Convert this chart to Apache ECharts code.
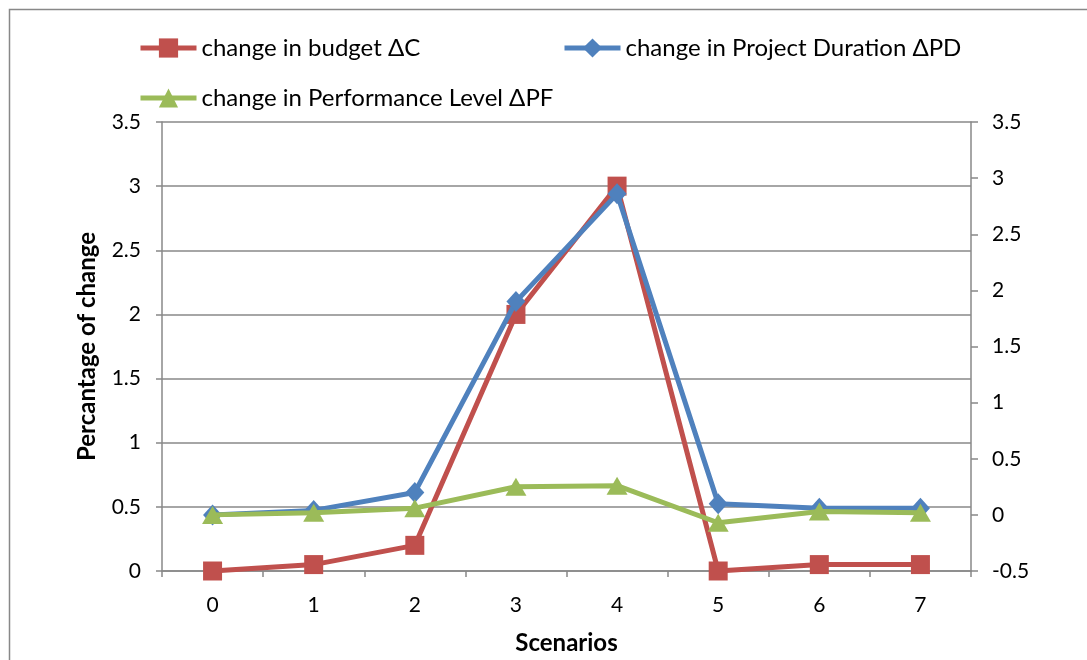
<!DOCTYPE html>
<html>
<head>
<meta charset="utf-8">
<script src="https://cdn.jsdelivr.net/npm/echarts@6/dist/echarts.min.js"></script>
<style>
html,body{margin:0;padding:0;background:#fff;}
#chart{width:1087px;height:660px;}
</style>
</head>
<body>
<div id="chart"></div>
<script>
const categories = ['0','1','2','3','4','5','6','7'];
const budget = [0, 0.05, 0.2, 2.0, 3.0, 0, 0.05, 0.05];
const duration = [0, 0.04, 0.2, 1.9, 2.86, 0.1, 0.06, 0.06];
const performance = [0, 0.02, 0.06, 0.25, 0.26, -0.07, 0.03, 0.02];
const names = ['change in budget \u0394C', 'change in Project Duration \u0394PD', 'change in Performance Level \u0394PF'];

const FONT = 'Lato';
const chart = echarts.init(document.getElementById('chart'), null, {renderer: 'canvas'});
const legendBase = {
  itemWidth: 56, itemHeight: 24, itemGap: 5,
  textStyle: {fontFamily: FONT, fontSize: 24, color: '#000'},
  lineStyle: {width: 5},
  selectedMode: false
};
chart.setOption({
  animation: false,
  backgroundColor: '#fff',
  graphic: [{
    type: 'rect', left: 7, top: 7,
    shape: {width: 1200, height: 800},
    style: {fill: 'none', stroke: '#888', lineWidth: 1.5}
  }],
  legend: [
    Object.assign({}, legendBase, {data: [names[0]], left: 133, top: 31}),
    Object.assign({}, legendBase, {data: [names[1]], left: 557, top: 31}),
    Object.assign({}, legendBase, {data: [names[2]], left: 133, top: 81})
  ],
  grid: {left: 162, right: 116, top: 122, bottom: 89, containLabel: false},
  xAxis: {
    type: 'category', data: categories, boundaryGap: true,
    name: 'Scenarios', nameLocation: 'middle', nameGap: 60,
    nameTextStyle: {fontFamily: FONT, fontSize: 24, fontWeight: 'bold', color: '#000'},
    axisLine: {lineStyle: {color: '#888', width: 1.5}},
    axisTick: {show: true, length: 6, lineStyle: {color: '#888', width: 1.5}, alignWithLabel: false},
    axisLabel: {fontFamily: FONT, fontSize: 21, color: '#000', margin: 24}
  },
  yAxis: [{
    type: 'value', min: 0, max: 3.5, interval: 0.5, position: 'left',
    name: 'Percantage of change', nameLocation: 'middle', nameGap: 63, nameRotate: 90,
    nameTextStyle: {fontFamily: FONT, fontSize: 24, fontWeight: 'bold', color: '#000'},
    axisLine: {show: true, lineStyle: {color: '#888', width: 1.5}},
    axisTick: {show: true, length: 6, lineStyle: {color: '#888', width: 1.5}},
    splitLine: {show: true, lineStyle: {color: '#888', width: 1.5}},
    axisLabel: {fontFamily: FONT, fontSize: 21, color: '#000', margin: 21}
  }, {
    type: 'value', min: -0.5, max: 3.5, interval: 0.5, position: 'right',
    axisLine: {show: true, lineStyle: {color: '#888', width: 1.5}},
    axisTick: {show: true, length: 7, lineStyle: {color: '#888', width: 1.5}},
    splitLine: {show: false},
    axisLabel: {fontFamily: FONT, fontSize: 21, color: '#000', margin: 21}
  }],
  series: [{
    name: names[0], type: 'line', yAxisIndex: 0, data: budget,
    symbol: 'rect', symbolSize: 19, showAllSymbol: true,
    lineStyle: {color: '#C0504D', width: 5},
    itemStyle: {color: '#C0504D'}, z: 2
  }, {
    name: names[1], type: 'line', yAxisIndex: 1, data: duration,
    symbol: 'diamond', symbolSize: [19, 21], showAllSymbol: true,
    lineStyle: {color: '#4F81BD', width: 5},
    itemStyle: {color: '#4F81BD'}, z: 3
  }, {
    name: names[2], type: 'line', yAxisIndex: 1, data: performance,
    symbol: 'triangle', symbolSize: [21, 18], showAllSymbol: true,
    lineStyle: {color: '#9BBB59', width: 5},
    itemStyle: {color: '#9BBB59'}, z: 4
  }]
});
</script>
</body>
</html>
